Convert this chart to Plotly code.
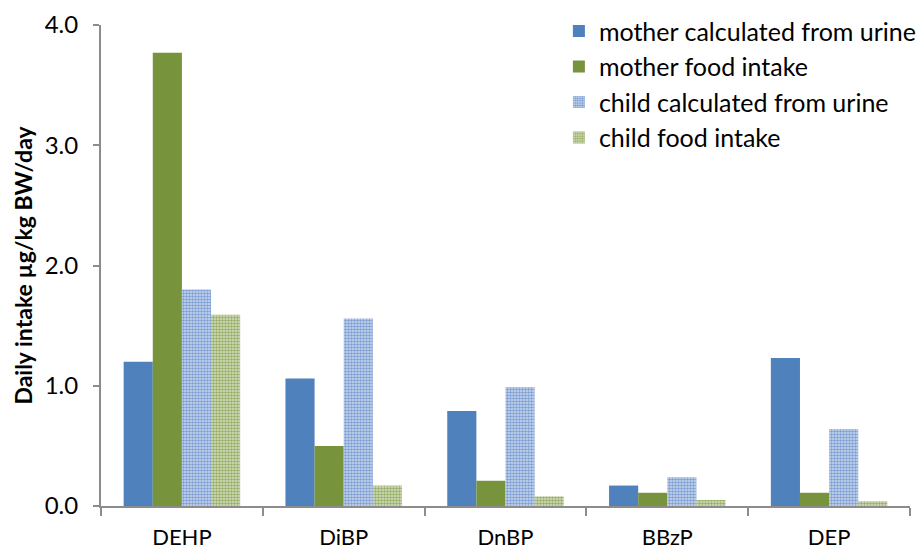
import plotly.graph_objects as go

# Phthalate compounds on the category axis
compounds = ["DEHP", "DiBP", "DnBP", "BBzP", "DEP"]

# Daily intake (µg/kg BW/day) per series
mother_urine = [1.20, 1.06, 0.79, 0.17, 1.23]
mother_food = [3.77, 0.50, 0.21, 0.11, 0.11]
child_urine = [1.80, 1.56, 0.99, 0.24, 0.64]
child_food = [1.59, 0.17, 0.08, 0.05, 0.04]

series_names = [
    "mother calculated from urine",
    "mother food intake",
    "child calculated from urine",
    "child food intake",
]

y_ticks = [0, 1, 2, 3, 4]
y_tick_text = ["0.0", "1.0", "2.0", "3.0", "4.0"]

FONT = "Lato, Open Sans, sans-serif"
AXIS_GREY = "#8c8c8c"

fig = go.Figure()

fig.add_trace(go.Bar(
    name=series_names[0], x=compounds, y=mother_urine,
    marker=dict(color="#4f81bd", line=dict(width=0)),
))
fig.add_trace(go.Bar(
    name=series_names[1], x=compounds, y=mother_food,
    marker=dict(color="#77933c", line=dict(width=0)),
))
fig.add_trace(go.Bar(
    name=series_names[2], x=compounds, y=child_urine,
    marker=dict(
        color="#cddbf0", line=dict(width=0),
        pattern=dict(shape=".", fgcolor="#7d9ed4", bgcolor="#cddbf0",
                     size=3, solidity=0.55, fillmode="replace"),
    ),
))
fig.add_trace(go.Bar(
    name=series_names[3], x=compounds, y=child_food,
    marker=dict(
        color="#d9e3c6", line=dict(width=0),
        pattern=dict(shape=".", fgcolor="#97ae66", bgcolor="#d9e3c6",
                     size=3, solidity=0.55, fillmode="replace"),
    ),
))

fig.update_layout(
    width=923, height=553,
    margin=dict(l=101, r=13, t=25, b=47, autoexpand=False),
    paper_bgcolor="white", plot_bgcolor="white",
    barmode="group", bargap=0.28, bargroupgap=0,
    font=dict(family=FONT, size=23, color="#000000"),
    showlegend=True,
    legend=dict(
        x=0.566, y=1.035, xanchor="left", yanchor="top",
        bgcolor="rgba(0,0,0,0)", font=dict(size=25, family=FONT),
        tracegroupgap=0, itemwidth=30,
    ),
    xaxis=dict(
        showline=True, linecolor=AXIS_GREY, linewidth=2,
        ticks="outside", tickson="boundaries", ticklen=8,
        tickcolor=AXIS_GREY, tickwidth=2, ticklabelstandoff=11,
        tickfont=dict(size=22, family=FONT), showgrid=False,
    ),
    yaxis=dict(
        range=[0, 4], tickvals=y_ticks, ticktext=y_tick_text,
        showline=True, linecolor=AXIS_GREY, linewidth=2,
        ticks="outside", ticklen=6, tickcolor=AXIS_GREY, tickwidth=2,
        ticklabelstandoff=10,
        showgrid=False, zeroline=False,
        tickfont=dict(size=24, family=FONT),
        title=dict(text="<b>Daily intake µg/kg BW/day</b>",
                   font=dict(size=23, family=FONT), standoff=6),
    ),
)

fig.write_html("out.html")
